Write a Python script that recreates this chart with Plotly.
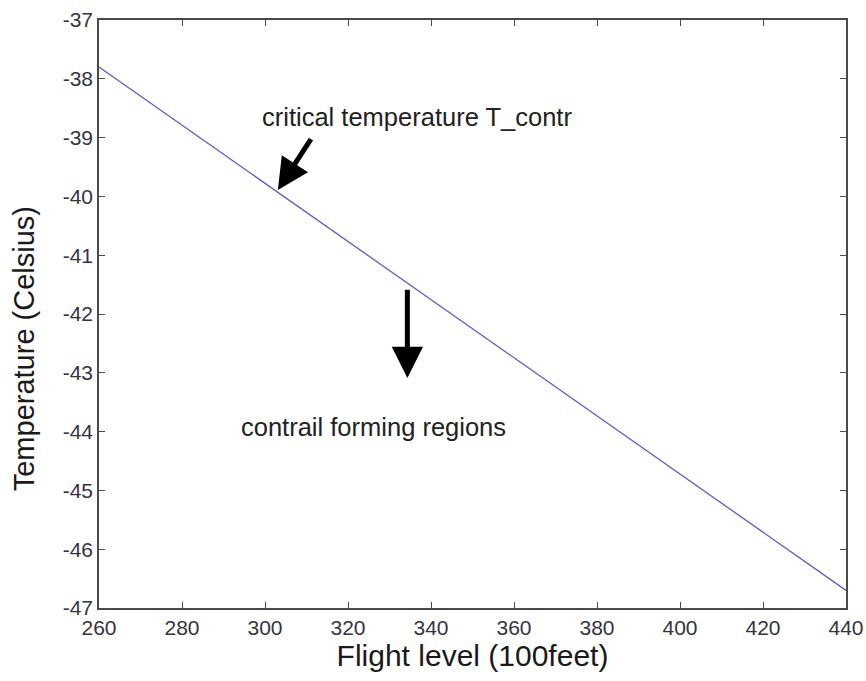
import plotly.graph_objects as go

# Critical contrail temperature versus flight level
flight_level = [260, 440]
t_contr = [-37.8, -46.7]

x_ticks = [260, 280, 300, 320, 340, 360, 380, 400, 420, 440]
y_ticks = [-47, -46, -45, -44, -43, -42, -41, -40, -39, -38, -37]

# Annotation texts and arrow anchors (data units)
label_texts = ["critical temperature T_contr", "contrail forming regions"]
label_x = [336.6, 326.1]
label_y = [-38.65, -43.92]
arrow_tip_x = [303.1, 334.3]
arrow_tip_y = [-39.89, -43.09]
arrow_tail_x = [311.3, 334.3]
arrow_tail_y = [-39.0, -41.56]

FONT = "Arial, Liberation Sans, sans-serif"
TICK_COLOR = "#34343f"

fig = go.Figure()
fig.add_trace(go.Scatter(
    x=flight_level, y=t_contr, mode="lines",
    line=dict(color="#5c5cc8", width=1.3),
    showlegend=False, hoverinfo="skip",
))

for txt, tx, ty in zip(label_texts, label_x, label_y):
    fig.add_annotation(x=tx, y=ty, xref="x", yref="y", text=txt,
                       showarrow=False, font=dict(family=FONT, size=25.5, color="#222222"))

for hx, hy, sx, sy in zip(arrow_tip_x, arrow_tip_y, arrow_tail_x, arrow_tail_y):
    fig.add_annotation(x=hx, y=hy, ax=sx, ay=sy, xref="x", yref="y",
                       axref="x", ayref="y", text="", showarrow=True,
                       arrowhead=2, arrowsize=1.25, arrowwidth=5, arrowcolor="#000000")

# Vertical axis title, set lower than the plot centre
fig.add_annotation(x=-0.1004, y=0.44, xref="paper", yref="paper",
                   xanchor="center", yanchor="middle",
                   text="Temperature (Celsius)", textangle=-90, showarrow=False,
                   font=dict(family=FONT, size=29, color="#1a1a1a"))

axis_common = dict(
    showline=True, linecolor="#4a4a4a", linewidth=1.5, mirror="ticks",
    ticks="inside", ticklen=6, tickwidth=1.2, tickcolor="#4a4a4a",
    showgrid=False, zeroline=False, automargin=False,
    tickfont=dict(family=FONT, size=21, color=TICK_COLOR),
)

fig.update_xaxes(
    range=[260, 440], tickvals=x_ticks, ticktext=[str(v) for v in x_ticks],
    title=dict(text="Flight level (100feet)", font=dict(family=FONT, size=30, color="#1a1a1a"),
               standoff=4),
    **axis_common,
)
fig.update_yaxes(
    range=[-47, -37], tickvals=y_ticks, ticktext=[str(v) for v in y_ticks],
    **axis_common,
)

fig.update_layout(
    width=866, height=681,
    margin=dict(l=99, r=20, t=20, b=73),
    plot_bgcolor="white", paper_bgcolor="white",
)

fig.write_html("out.html")
